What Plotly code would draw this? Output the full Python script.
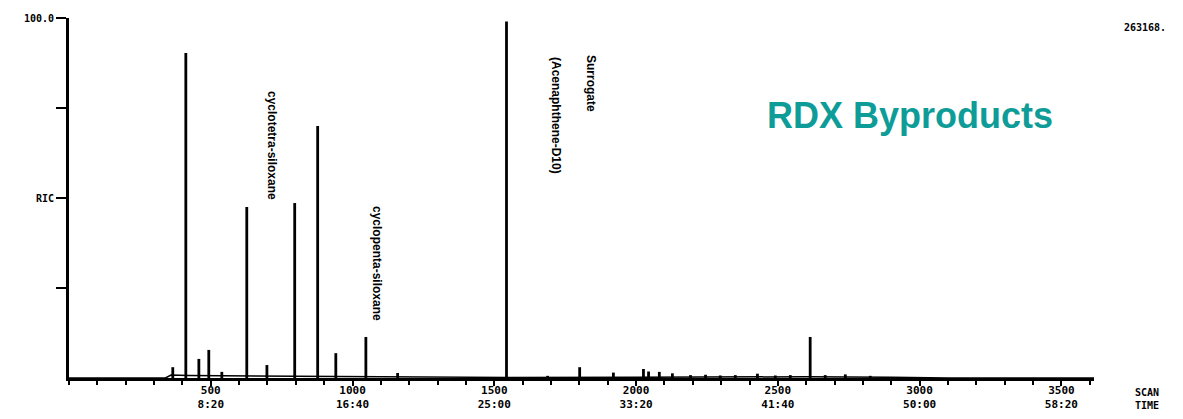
import plotly.graph_objects as go

# ---- data ----
peak_scans = [366, 412, 458, 493, 539, 627, 698, 796, 877, 941, 1047, 1159,
              1543, 1688, 1801, 1920, 2026, 2044, 2082, 2128, 2192, 2245,
              2297, 2350, 2428, 2491, 2544, 2614, 2667, 2738, 2826]
peak_heights = [3.0, 90.3, 5.3, 7.8, 1.7, 47.5, 3.6, 48.6, 70.0, 6.9, 11.4, 1.4,
                99.0, 0.6, 3.0, 1.5, 2.5, 1.8, 1.7, 1.3, 0.8, 0.9,
                0.7, 0.8, 1.2, 0.7, 0.8, 11.4, 0.8, 1.0, 0.6]
baseline_scans = [0, 340, 360, 420, 800, 1100, 1300, 1550, 2000, 2300, 2600, 2900, 3100, 3615]
baseline_vals = [0, 0, 0.8, 0.7, 0.5, 0.3, 0.2, 0.15, 0.2, 0.35, 0.35, 0.2, 0, 0]

x_tick_vals = [500, 1000, 1500, 2000, 2500, 3000, 3500]
x_tick_scan = ["500", "1000", "1500", "2000", "2500", "3000", "3500"]
x_tick_time = ["8:20", "16:40", "25:00", "33:20", "41:40", "50:00", "58:20"]
y_tick_vals = [25, 50, 75, 100]
y_tick_text = ["", "RIC", "", "100.0"]

# spikes built from the peak lists
px, py = [], []
for s, h in zip(peak_scans, peak_heights):
    px += [s, s, None]
    py += [0, h, None]

fig = go.Figure()
fig.add_trace(go.Scatter(x=baseline_scans, y=baseline_vals, mode="lines",
                         line=dict(color="black", width=1.5), hoverinfo="skip"))
fig.add_trace(go.Scatter(x=px, y=py, mode="lines",
                         line=dict(color="black", width=2.8), hoverinfo="skip"))

tickfont = dict(family="DejaVu Sans Mono", size=10, color="black", weight="bold")
xtickfont = dict(family="DejaVu Sans Mono", size=11, color="black", weight="bold")

fig.update_layout(
    width=1183, height=419,
    margin=dict(l=69, r=89, t=18, b=41, pad=0),
    paper_bgcolor="white", plot_bgcolor="white",
    showlegend=False,
    xaxis=dict(range=[0, 3615], showgrid=False, zeroline=False, automargin=False,
               showline=True, linecolor="black", linewidth=2.5,
               tickvals=x_tick_vals,
               ticktext=[a + "<br>" + b for a, b in zip(x_tick_scan, x_tick_time)],
               ticks="outside", ticklen=5, tickwidth=2, tickcolor="black",
               ticklabelstandoff=-5,
               minor=dict(dtick=100, tick0=0, ticks="outside", ticklen=4,
                          tickwidth=2, tickcolor="black"),
               tickfont=xtickfont),
    yaxis=dict(range=[0, 100], showgrid=False, zeroline=False, automargin=False,
               showline=True, linecolor="black", linewidth=2.8,
               tickvals=y_tick_vals, ticktext=y_tick_text,
               ticks="outside", ticklen=10, tickwidth=2, tickcolor="black",
               tickfont=tickfont),
)

def pos(xp, yp):
    return dict(x=(xp - 69) / (1094 - 69), y=(378 - yp) / 360, xref="paper", yref="paper",
                xanchor="center", yanchor="middle", showarrow=False)

narrow = dict(family="Liberation Sans", size=12, color="black", weight="bold")
fig.add_annotation(**pos(272, 145), text="cyclotetra-siloxane", textangle=90, font=narrow)
fig.add_annotation(**pos(377, 263), text="cyclopenta-siloxane", textangle=90, font=narrow)
fig.add_annotation(**pos(591, 83), text="Surrogate", textangle=90, font=narrow)
fig.add_annotation(**pos(556, 115), text="(Acenaphthene-D10)", textangle=90, font=narrow)
fig.add_annotation(**pos(910, 115), text="RDX Byproducts",
                   font=dict(family="Liberation Sans, Arial", size=36, color="#0E9C98", weight="bold"))
fig.add_annotation(**pos(1145, 27), text="263168.", font=tickfont)
fig.add_annotation(**pos(1147, 399), text="SCAN<br>TIME", align="left", font=tickfont)

fig.write_html("out.html")
